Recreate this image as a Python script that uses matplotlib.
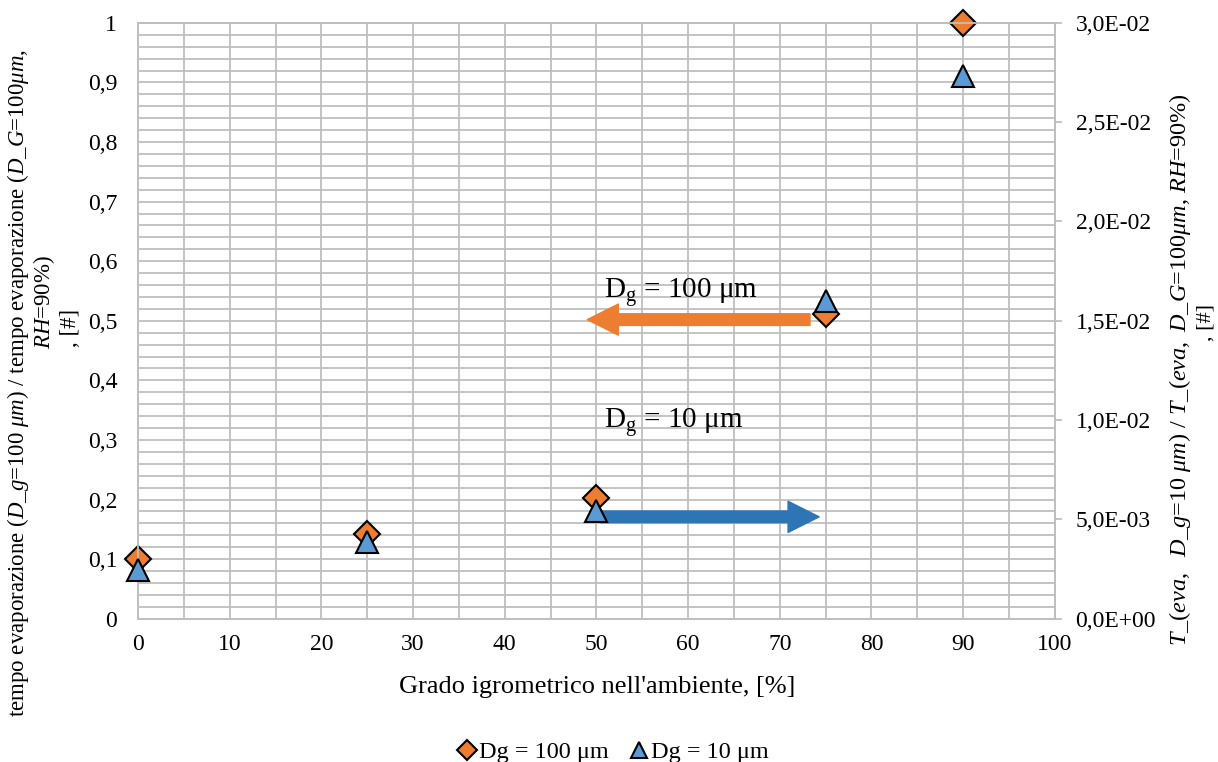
import matplotlib.pyplot as plt
import numpy as np

plt.rcParams['font.family'] = ['Liberation Serif', 'DejaVu Serif']
plt.rcParams['mathtext.fontset'] = 'custom'
plt.rcParams['mathtext.rm'] = 'Liberation Serif'
plt.rcParams['mathtext.it'] = 'Liberation Serif:italic'

# data
rh = [0, 25, 50, 75, 90]
t_100 = [0.10, 0.143, 0.202, 0.512, 1.0]            # left axis
t_10 = [0.00247, 0.00388, 0.00544, 0.0160, 0.0273]   # right axis

orange = '#ED7D31'
blue = '#5B9BD5'
grid_c = '#BFBFBF'

fig = plt.figure(figsize=(12.18, 7.62), dpi=100)
ax = fig.add_axes([0.1133, 0.188, 0.7527, 0.782])
ax2 = ax.twinx()

ax.set_xlim(0, 100)
ax.set_ylim(0, 1)
ax2.set_ylim(0, 0.03)

ax.set_xticks(np.arange(0, 101, 10))
ax.set_xticks(np.arange(0, 101, 5), minor=True)
ax.set_yticks(np.arange(0, 1.01, 0.1))
ax.set_yticks(np.arange(0, 1.01, 0.02), minor=True)
ax.set_xticklabels([str(v) for v in range(0, 101, 10)])
ax.set_yticklabels(['0'] + [('%.1f' % v).replace('.', ',') for v in np.arange(0.1, 0.95, 0.1)] + ['1'])
ax.grid(True, which='both', color=grid_c, lw=1.3)
ax.set_axisbelow(True)
ax.tick_params(which='both', length=0, labelsize=17)
ax.tick_params(axis='x', pad=11)
ax.tick_params(axis='y', pad=15)

r_ticks = np.arange(0, 0.0301, 0.005)
ax2.set_yticks(r_ticks)
ax2.set_yticklabels([('%.1E' % v).replace('.', ',') for v in r_ticks])
ax2.tick_params(axis='y', length=5, color=grid_c, width=1.3, labelsize=17, pad=10)

for a in (ax, ax2):
    for s in a.spines.values():
        s.set_color(grid_c)
        s.set_linewidth(1.3)

ax.plot(rh, t_100, 'D', ms=13, mfc=orange, mec='black', mew=1.5, zorder=5,
        clip_on=False, label='Dg = 100 μm')
ax2.plot(rh, t_10, '^', ms=16, mfc=blue, mec='black', mew=1.5, zorder=6,
         clip_on=False, label='Dg = 10 μm')

# arrows and annotations
ax.annotate('', xy=(49.0, 0.502), xytext=(73.3, 0.502),
            arrowprops=dict(arrowstyle='simple,head_length=0.8,head_width=0.8,tail_width=0.3',
                            color=orange, mutation_scale=28, shrinkA=0, shrinkB=0), zorder=4)
ax.annotate('', xy=(74.3, 0.171), xytext=(50.4, 0.171),
            arrowprops=dict(arrowstyle='simple,head_length=0.8,head_width=0.8,tail_width=0.3',
                            color='#2E75B6', mutation_scale=28, shrinkA=0, shrinkB=0), zorder=4)
ax.text(50.8, 0.548, r'D$_\mathrm{g}$ = 100 μm', fontsize=21, va='center', ha='left')
ax.text(50.8, 0.33, r'D$_\mathrm{g}$ = 10 μm', fontsize=21, va='center', ha='left')

fig.text(0.49, 0.099, "Grado igrometrico nell'ambiente, [%]", fontsize=19, ha='center', va='center')

# left axis title, three wrapped lines
fig.text(18 / 1218, 1 - 383 / 762,
         'tempo evaporazione ($D$_$g$=100 $μm$) / tempo evaporazione ($D$_$G$=100$μm$,',
         rotation=90, fontsize=16.5, ha='center', va='center')
fig.text(44 / 1218, 1 - 302 / 762, '$RH$=90%)', rotation=90, fontsize=16.5,
         ha='center', va='center')
fig.text(70 / 1218, 1 - 328 / 762, ', [#]', rotation=90, fontsize=16.5,
         ha='center', va='center')

# right axis title
fig.text(1180 / 1218, 1 - 370 / 762,
         '$T$_$(eva,$  $D$_$g$=10 $μm$) / $T$_$(eva,$ $D$_$G$=100$μm$, $RH$=90%)',
         rotation=90, fontsize=17.5, ha='center', va='center')
fig.text(1206 / 1218, 1 - 322 / 762, ', [#]', rotation=90, fontsize=16,
         ha='center', va='center')

h1, l1 = ax.get_legend_handles_labels()
h2, l2 = ax2.get_legend_handles_labels()
leg = fig.legend(h1 + h2, l1 + l2, loc='center', bbox_to_anchor=(0.505, 0.013), ncol=2,
                 frameon=False, fontsize=17.5, handlelength=0.5, handletextpad=0.25,
                 columnspacing=1.0, markerscale=0.75, borderpad=0)

fig.savefig('out.png', dpi=100)
